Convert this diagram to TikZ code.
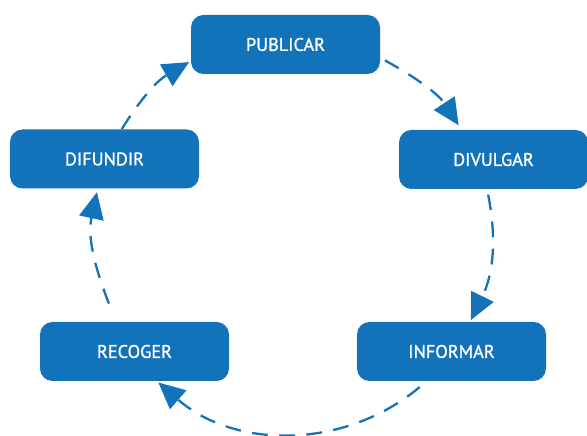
\documentclass[tikz,border=0pt]{standalone}
\usepackage{fontspec}
\setmainfont{PT Sans}
\usetikzlibrary{arrows.meta,positioning}
\definecolor{cycleblue}{RGB}{18,114,186}

\begin{document}
\begin{tikzpicture}[
        stage/.style={rectangle, fill=cycleblue, text=white, minimum width=3.78cm,
                      minimum height=1.18cm, align=center, rounded corners=0.25cm,
                      font=\fontsize{10.4}{12}\selectfont\addfontfeature{FakeBold=1.2}},
        flow/.style={cycleblue, line width=1.3pt, dash pattern=on 9pt off 6.5pt,
                     -{Triangle[length=15pt,width=14pt]}}
      ]
        \useasboundingbox (0,0) rectangle (11.74,8.72);

        \node[stage] (publicar) at (5.71, 7.83) {PUBLICAR};
        \node[stage] (divulgar) at (9.87, 5.53) {DIVULGAR};
        \node[stage] (informar) at (9.03, 1.69) {INFORMAR};
        \node[stage] (recoger)  at (2.69, 1.69) {RECOGER};
        \node[stage] (difundir) at (2.09, 5.54) {DIFUNDIR};

        % cycle, clockwise
        \draw[flow, shorten <=3pt, shorten >=3pt] (publicar.-8) to[out=-29, in=123] (divulgar.137);
        \draw[flow, shorten <=3pt, shorten >=1pt] (divulgar.-102) to[out=-79, in=64] (informar.58);
        \draw[flow, shorten <=5pt, shorten >=1pt] (informar.-130) to[out=-140, in=-41] (recoger.-53);
        \draw[flow, shorten <=11pt, shorten >=2pt] (recoger.122) to[out=111, in=-102] (difundir.-103);
        \draw[flow, shorten >=1pt] (difundir.60) to[out=58, in=210] (publicar.-170);
      \end{tikzpicture}
\end{document}
